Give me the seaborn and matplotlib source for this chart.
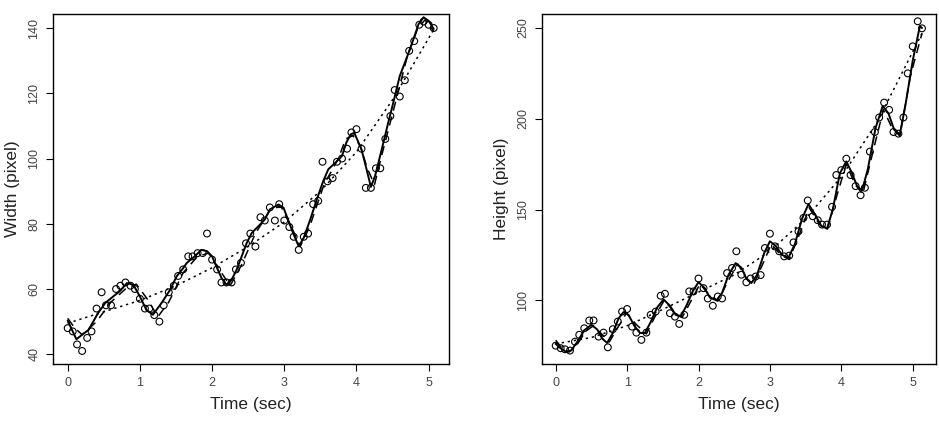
""" Width and height of a tracked object over time """

import numpy as np
import pandas as pd
import matplotlib
matplotlib.use("Agg")
import matplotlib.pyplot as plt
import seaborn as sns

time_w = [0.00, 0.07, 0.13, 0.20, 0.27, 0.33, 0.40, 0.47, 0.53, 0.60,
          0.67, 0.73, 0.80, 0.87, 0.93, 1.00, 1.07, 1.13, 1.20, 1.27,
          1.33, 1.40, 1.47, 1.53, 1.60, 1.67, 1.73, 1.80, 1.87, 1.93,
          2.00, 2.07, 2.13, 2.20, 2.27, 2.33, 2.40, 2.47, 2.53, 2.60,
          2.67, 2.73, 2.80, 2.87, 2.93, 3.00, 3.07, 3.13, 3.20, 3.27,
          3.33, 3.40, 3.47, 3.53, 3.60, 3.67, 3.73, 3.80, 3.87, 3.93,
          4.00, 4.07, 4.13, 4.20, 4.27, 4.33, 4.40, 4.47, 4.53, 4.60,
          4.67, 4.73, 4.80, 4.87, 4.93, 5.00, 5.07]
width = [48, 47, 43, 41, 45, 47, 54, 59, 55, 55,
         60, 61, 62, 61, 60, 57, 54, 54, 52, 50,
         55, 59, 61, 64, 66, 70, 70, 71, 71, 77,
         69, 66, 62, 62, 62, 66, 68, 74, 77, 73,
         82, 81, 85, 81, 86, 81, 79, 76, 72, 76,
         77, 86, 87, 99, 93, 94, 99, 100, 103, 108,
         109, 103, 91, 91, 97, 97, 106, 113, 121, 119,
         124, 133, 136, 141, 142, 141, 140]

time_h = [0.00, 0.07, 0.13, 0.20, 0.27, 0.33, 0.40, 0.47, 0.53, 0.60,
          0.67, 0.73, 0.80, 0.87, 0.93, 1.00, 1.07, 1.13, 1.20, 1.27,
          1.33, 1.40, 1.47, 1.53, 1.60, 1.67, 1.73, 1.80, 1.87, 1.93,
          2.00, 2.07, 2.13, 2.20, 2.27, 2.33, 2.40, 2.47, 2.53, 2.60,
          2.67, 2.73, 2.80, 2.87, 2.93, 3.00, 3.07, 3.13, 3.20, 3.27,
          3.33, 3.40, 3.47, 3.53, 3.60, 3.67, 3.73, 3.80, 3.87, 3.93,
          4.00, 4.07, 4.13, 4.20, 4.27, 4.33, 4.40, 4.47, 4.53, 4.60,
          4.67, 4.73, 4.80, 4.87, 4.93, 5.00, 5.07, 5.13]
height = [75, 73.6, 73, 72.3, 77.2, 81, 84.6, 88.9, 88.9, 80,
          82.2, 74.1, 84.1, 88.3, 93.8, 95.2, 85.5, 82.2, 78.2, 82.2,
          92, 93.8, 102.5, 103.6, 92.9, 91, 87, 92, 104.9, 104.9,
          112, 106.7, 101, 97, 102.1, 101, 115, 117.8, 127, 114.1,
          109.9, 112, 113.1, 113.9, 128.8, 136.7, 129.7, 127, 124.2, 124.6,
          131.9, 138, 145.4, 155, 146.3, 144.1, 141.7, 141.7, 151.5, 169,
          171.7, 178, 169, 162.9, 157.9, 162, 181.9, 192.7, 200.7, 208.9,
          204.9, 192.7, 191.8, 200.7, 225, 239.9, 253.7, 249.8]

# ---- fitted curves ----
smooth_w_t = [0.0, 0.12, 0.29, 0.42, 0.52, 0.63, 0.72, 0.82, 0.91, 1.0,
              1.09, 1.18, 1.30, 1.42, 1.51, 1.60, 1.65, 1.76, 1.85, 1.93,
              2.0, 2.06, 2.13, 2.20, 2.27, 2.34, 2.41, 2.48, 2.55, 2.64,
              2.73, 2.80, 2.92, 2.99, 3.06, 3.13, 3.20, 3.27, 3.36, 3.45,
              3.54, 3.61, 3.73, 3.80, 3.86, 3.92, 3.97, 4.07, 4.14, 4.20,
              4.26, 4.35, 4.44, 4.51, 4.60, 4.69, 4.79, 4.86, 4.93, 5.0, 5.07]
smooth_w = [50.3, 44.6, 47.5, 52.6, 55.7, 57.7, 59.3, 61.8, 61.3, 57.7,
            53.6, 52.1, 55.7, 59.8, 63.9, 66.4, 68.0, 70.0, 72.0, 71.6,
            70.0, 66.9, 63.4, 61.3, 62.8, 65.9, 70.0, 74.1, 77.2, 79.2,
            81.3, 84.4, 85.9, 84.9, 80.8, 76.7, 73.1, 75.7, 81.3, 87.4,
            93.1, 96.7, 99.2, 100.8, 104.9, 107.4, 107.9, 102.8, 96.7, 91.3,
            94.8, 102.8, 111.0, 117.1, 125.3, 130.5, 136.6, 141.2, 143.3, 142.2, 139.7]

model_w_t = [0.0, 0.1, 0.2, 0.4, 0.6, 0.8, 0.95, 1.1, 1.25, 1.4,
             1.6, 1.8, 1.95, 2.1, 2.25, 2.4, 2.6, 2.8, 2.95, 3.1,
             3.22, 3.35, 3.55, 3.75, 3.85, 3.95, 4.05, 4.15, 4.25, 4.35,
             4.55, 4.7, 4.85, 4.95, 5.07]
model_w = [51, 48, 46, 50, 56, 60, 61.5, 57, 51.5, 56,
           65, 70, 71, 66, 61, 67, 77, 84, 85.5, 79,
           73, 79, 92, 100, 106, 107, 104, 97, 92, 101,
           118, 131, 140, 142.5, 139]

trend_w_t = [0.0, 0.5, 1.0, 1.5, 2.0, 2.5, 3.0, 3.5, 4.0, 4.5, 5.07]
trend_w = [49.5, 53, 56.5, 61, 66.5, 73, 80.5, 90, 102, 118, 139.5]

smooth_h_t = [0.00, 0.07, 0.15, 0.22, 0.30, 0.40, 0.50, 0.58, 0.65, 0.72,
              0.80, 0.88, 0.95, 1.02, 1.10, 1.18, 1.25, 1.33, 1.42, 1.51,
              1.60, 1.68, 1.75, 1.83, 1.92, 2.00, 2.08, 2.16, 2.25, 2.33,
              2.42, 2.52, 2.60, 2.67, 2.74, 2.82, 2.92, 3.00, 3.08, 3.17,
              3.26, 3.35, 3.45, 3.54, 3.62, 3.72, 3.80, 3.88, 3.98, 4.07,
              4.15, 4.22, 4.29, 4.37, 4.48, 4.58, 4.66, 4.74, 4.82, 4.90,
              5.00, 5.10, 5.13]
smooth_h = [76, 73.5, 71.5, 72.5, 77, 83.5, 86.5, 84, 79, 76.5,
            82, 90, 93.5, 92, 86, 82, 82, 88, 96, 100.5,
            97, 92, 91, 97, 105, 110, 107, 101.5, 100, 104,
            114, 120.5, 118, 112, 109.5, 114, 126, 132.5, 130, 125,
            123.5, 131, 145, 153, 148, 141, 139.5, 150, 170, 176.5,
            170, 163, 160.5, 172, 195, 207, 203, 194, 191.5, 208,
            232, 251, 250]

model_h_t = [0.00, 0.08, 0.19, 0.29, 0.42, 0.53, 0.63, 0.75, 0.87, 0.99,
             1.12, 1.27, 1.39, 1.52, 1.65, 1.77, 1.90, 2.02, 2.15, 2.27,
             2.42, 2.55, 2.67, 2.77, 2.90, 3.02, 3.15, 3.27, 3.42, 3.55,
             3.69, 3.80, 3.94, 4.07, 4.19, 4.30, 4.45, 4.59, 4.71, 4.82,
             4.97, 5.13]
model_h = [78, 74, 71.5, 75, 83, 86, 82, 77, 85, 93,
           87, 81.5, 91, 100, 94, 90.5, 100, 109, 103, 99.5,
           111, 120, 112, 108.5, 120, 131, 125, 122.5, 137, 151,
           142, 138.5, 158, 175, 164, 158.5, 183, 205, 195, 190.5,
           224, 247]

trend_h_t = [0.0, 0.5, 1.0, 1.5, 2.0, 2.5, 3.0, 3.5, 4.0, 4.5, 5.13]
trend_h = [76, 79.5, 86, 95, 104.5, 114, 127, 145, 168, 198, 247]


sns.set_style("white")
plt.rcParams["font.family"] = ["Liberation Sans", "DejaVu Sans"]

fig = plt.figure(figsize=(9.39, 4.26), dpi=100)
axL = fig.add_axes([0.0564, 0.1455, 0.4217, 0.8216])
axR = fig.add_axes([0.5772, 0.1455, 0.4196, 0.8216])


def draw_panel(ax, t, y, st, sv, mt, mv, tt, tv):
    """Points, smoother (solid), model (dashed) and trend (dotted)"""
    sns.lineplot(x=tt, y=tv, ax=ax, color="black", lw=1.1,
                 linestyle=(0, (1.5, 2.5)), estimator=None)
    sns.lineplot(x=mt, y=mv, ax=ax, color="black", lw=1.1,
                 linestyle=(0, (6, 4)), estimator=None)
    sns.lineplot(x=st, y=sv, ax=ax, color="black", lw=1.4, estimator=None)
    sns.scatterplot(x=t, y=y, ax=ax, marker="o", s=24, facecolor="none",
                    edgecolor="black", linewidth=0.8)

    for sp in ax.spines.values():
        sp.set_visible(True)
        sp.set_color("black")
        sp.set_linewidth(1.0)
    ax.tick_params(axis="both", which="major", direction="out", length=5,
                   width=0.8, color="black", labelsize=9, labelcolor="#444444",
                   left=True, bottom=True, pad=4)
    ax.set_xlabel("Time (sec)", fontsize=12.5, color="#222222", labelpad=6)


draw_panel(axL, time_w, width, smooth_w_t, smooth_w, model_w_t, model_w,
           trend_w_t, trend_w)
axL.set_xlim(-0.204, 5.281)
axL.set_ylim(37.0, 144.3)
axL.set_xticks([0, 1, 2, 3, 4, 5])
axL.set_yticks([40, 60, 80, 100, 120, 140])
for lab in axL.get_yticklabels():
    lab.set_rotation(90)
    lab.set_va("center")
axL.set_ylabel("Width (pixel)", fontsize=12.5, color="#222222", labelpad=6)

draw_panel(axR, time_h, height, smooth_h_t, smooth_h, model_h_t, model_h,
           trend_h_t, trend_h)
axR.set_xlim(-0.192, 5.326)
axR.set_ylim(64.9, 257.7)
axR.set_xticks([0, 1, 2, 3, 4, 5])
axR.set_yticks([100, 150, 200, 250])
for lab in axR.get_yticklabels():
    lab.set_rotation(90)
    lab.set_va("center")
axR.set_ylabel("Height (pixel)", fontsize=12.5, color="#222222", labelpad=6)

fig.savefig("out.png", dpi=100, facecolor="white")
